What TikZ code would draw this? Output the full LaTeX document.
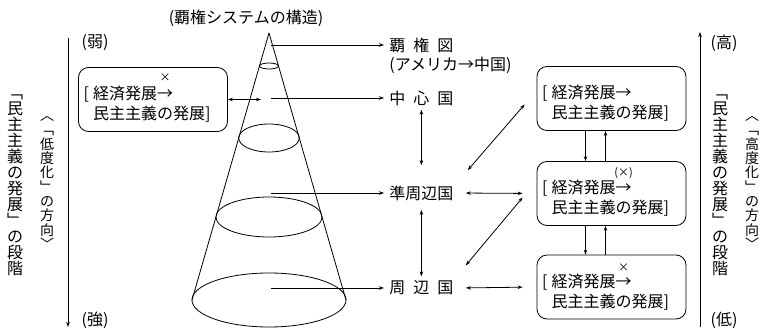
\documentclass[tikz,border=0pt]{standalone}
\usepackage{fontspec}
\setmainfont{Noto Sans CJK JP}
\usetikzlibrary{arrows.meta}

\begin{document}
\begin{tikzpicture}[x=1pt,y=-1pt,line width=0.8pt,>={Stealth[length=5pt,width=3.5pt]},
    lbl/.style={inner xsep=5pt,inner ysep=4pt,font=\fontsize{16}{20}\selectfont},
    box/.style={draw,rounded corners=10pt,minimum height=64pt,text width=139pt,
      align=left,inner xsep=5pt,font=\fontsize{16}{20}\selectfont},
    xmark/.style={inner sep=0pt,font=\fontsize{11}{11}\selectfont},
    vcol/.style={align=center,inner sep=0pt,font={\fontsize{16}{16}\selectfont\lineskiplimit=-10pt}},
    vcol2/.style={align=center,inner sep=0pt,font={\fontsize{14}{14.3}\selectfont\lineskiplimit=-10pt}}]
   \def\lb{\makebox[0.6em][l]{[}}
   \def\st{\rule{0pt}{23pt}}
   \useasboundingbox (0,0) rectangle (761,329);
   % cone
   \coordinate (apex) at (269,33);
   \draw (apex) -- (192,300);
   \draw (apex) -- (346,300);
   \foreach \y/\r in {66/3,138/14,217/20,300/27}
     \draw (269,\y) ellipse [x radius={0.2884*(\y-33)}, y radius=\r];
   \node[lbl] (title) at (246,18) {(覇権システムの構造)};
   % labels of the cone
   \node[lbl,anchor=west] (heg)  at (384,45)  {覇\hspace{0.5em}権\hspace{0.5em}図};
   \node[lbl,anchor=west] (usch) at (384,65)  {(アメリカ→中国)};
   \node[lbl,anchor=west] (core) at (384,98)  {中\hspace{0.5em}心\hspace{0.5em}国};
   \node[lbl,anchor=west] (semi) at (384,193) {準周辺国};
   \node[lbl,anchor=west] (peri) at (384,288) {周\hspace{0.5em}辺\hspace{0.5em}国};
   \foreach \n/\y in {heg/45,core/98,semi/193,peri/288}{
     \coordinate (c-\n) at (271,\y);
     \draw[->] (c-\n) -- (\n.west);
   }
   % boxes
   \node[box] (lbox) at (153,99.5)  {\st\lb 経済発展→\\\hspace*{0.6em}民主主義の発展]};
   \node[box] (tbox) at (611.5,98.5) {\st\lb 経済発展→\\\hspace*{0.6em}民主主義の発展]};
   \node[box] (mbox) at (611.5,193.5){\st\lb 経済発展→\\\hspace*{0.6em}民主主義の発展]};
   \node[box] (bbox) at (611.5,287) {\st\lb 経済発展→\\\hspace*{0.6em}民主主義の発展]};
   \node[xmark] (lx) at ([xshift=87pt,yshift=22pt]lbox.west) {×};
   \node[xmark] (mx) at ([xshift=87pt,yshift=20pt]mbox.west) {(×)};
   \node[xmark] (bx) at ([xshift=87pt,yshift=19pt]bbox.west) {×};
   \coordinate (lcone) at (261,99.5);
   \draw[<->] (lbox.east) -- (lcone);
   \foreach \a/\b in {tbox/mbox,mbox/bbox}{
     \draw[->] ([xshift=-26pt]\a.south) -- ([xshift=-26pt]\b.north);
     \draw[->] ([xshift=-6pt]\b.north) -- ([xshift=-6pt]\a.south);
   }
   % links
   \draw[<->] (core.south) -- ([yshift=16pt]semi.north);
   \draw[<->] ([yshift=-5pt]semi.south) -- (peri.north);
   \draw[<->,shorten <=7pt,shorten >=14pt] (semi.east) -- (mbox.west);
   \draw[<->,shorten <=7pt,shorten >=14pt] (peri.east) -- (bbox.west);
   \draw[<->] ([xshift=9pt,yshift=11pt]semi.north east) -- ([xshift=-12pt,yshift=-6pt]tbox.west);
   \draw[<->] ([xshift=7pt,yshift=11pt]peri.north east) -- ([xshift=-14pt,yshift=-4pt]mbox.west);
   % scales
   \coordinate (ltop) at (68,38);
   \coordinate (lbot) at (68,327);
   \draw[->] (ltop) -- (lbot);
   \node[lbl] (weak)   at (95,43)  {(弱)};
   \node[lbl] (strong) at (95,320) {(強)};
   \coordinate (rbot) at (700,327);
   \coordinate (rtop) at (700,32);
   \draw[->] (rbot) -- (rtop);
   \node[lbl] (high) at (724,43)  {(高)};
   \node[lbl] (low)  at (724,320) {(低)};
   \node[vcol]  (lstage) at (15,185)  {﹁\\民\\主\\主\\義\\の\\発\\展\\﹂\\の\\段\\階};
   \node[vcol2] (ldir)   at (47,183)  {︿\\﹁\\低\\度\\化\\﹂\\の\\方\\向\\﹀};
   \node[vcol]  (rstage) at (720,185) {﹁\\民\\主\\主\\義\\の\\発\\展\\﹂\\の\\段\\階};
   \node[vcol2] (rdir)   at (752,183) {︿\\﹁\\高\\度\\化\\﹂\\の\\方\\向\\﹀};
  \end{tikzpicture}
\end{document}
